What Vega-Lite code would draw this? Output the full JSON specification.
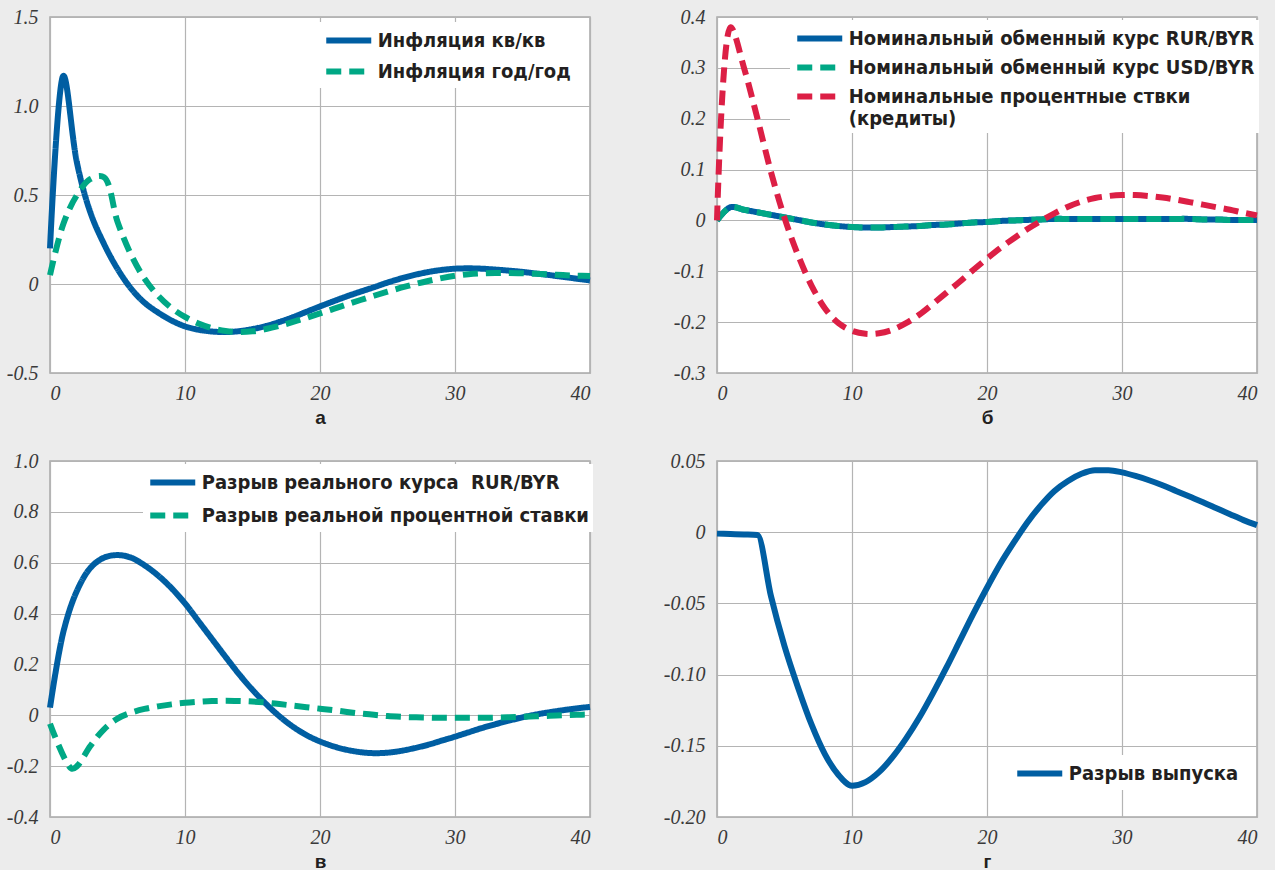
{
  "$schema": "https://vega.github.io/schema/vega-lite/v6.json",
  "background": "#ececec",
  "padding": {"left": 5, "top": 6, "right": 17, "bottom": 4},
  "columns": 2,
  "bounds": "flush",
  "spacing": {"row": 88, "column": 127},
  "resolve": {"scale": {"color": "independent", "strokeDash": "independent", "x": "independent", "y": "independent"}, "legend": {"color": "independent", "strokeDash": "independent"}},
  "config": {
    "view": {"fill": "white", "stroke": "#a8a8a8", "strokeWidth": 1.5},
    "axis": {"grid": true, "gridColor": "#b4b4b4", "gridWidth": 1.2, "domain": false, "ticks": false, "labelFont": "Liberation Serif, DejaVu Serif Condensed, serif", "labelFontStyle": "italic", "labelFontSize": 20, "labelColor": "#3a3a3a", "titleFont": "Liberation Sans, Arial, sans-serif", "titleFontWeight": "bold", "titleFontSize": 19, "titleColor": "#231f20"},
    "axisY": {"labelPadding": 12},
    "axisX": {"labelPadding": 10, "titlePadding": 5},
    "legend": {"orient": "none", "fillColor": "white", "padding": 4, "labelFont": "Liberation Sans Narrow, DejaVu Sans Condensed, Liberation Sans", "labelFontWeight": "bold", "labelFontSize": 20, "labelColor": "#231f20", "symbolType": "M-2,0L2,0", "symbolSize": 506.25, "symbolOffset": 11.25, "symbolStrokeWidth": 6, "labelOffset": 14.5, "rowPadding": 5, "labelLimit": 600},
    "line": {"strokeWidth": 6, "interpolate": "catmull-rom", "strokeCap": "butt"}
  },
  "datasets": {
    "a": [
      {"t":0,"s":"Инфляция кв/кв","v":0.2},{"t":1,"s":"Инфляция кв/кв","v":1.17},{"t":2,"s":"Инфляция кв/кв","v":0.68},{"t":3,"s":"Инфляция кв/кв","v":0.4},{"t":4,"s":"Инфляция кв/кв","v":0.225},{"t":5,"s":"Инфляция кв/кв","v":0.085},{"t":6,"s":"Инфляция кв/кв","v":-0.025},{"t":7,"s":"Инфляция кв/кв","v":-0.105},{"t":8,"s":"Инфляция кв/кв","v":-0.16},{"t":9,"s":"Инфляция кв/кв","v":-0.205},{"t":10,"s":"Инфляция кв/кв","v":-0.238},{"t":11,"s":"Инфляция кв/кв","v":-0.257},{"t":12,"s":"Инфляция кв/кв","v":-0.267},{"t":13,"s":"Инфляция кв/кв","v":-0.27},{"t":14,"s":"Инфляция кв/кв","v":-0.265},{"t":15,"s":"Инфляция кв/кв","v":-0.253},{"t":16,"s":"Инфляция кв/кв","v":-0.236},{"t":17,"s":"Инфляция кв/кв","v":-0.213},{"t":18,"s":"Инфляция кв/кв","v":-0.186},{"t":19,"s":"Инфляция кв/кв","v":-0.156},{"t":20,"s":"Инфляция кв/кв","v":-0.126},{"t":21,"s":"Инфляция кв/кв","v":-0.097},{"t":22,"s":"Инфляция кв/кв","v":-0.069},{"t":23,"s":"Инфляция кв/кв","v":-0.043},{"t":24,"s":"Инфляция кв/кв","v":-0.018},{"t":25,"s":"Инфляция кв/кв","v":0.008},{"t":26,"s":"Инфляция кв/кв","v":0.031},{"t":27,"s":"Инфляция кв/кв","v":0.051},{"t":28,"s":"Инфляция кв/кв","v":0.067},{"t":29,"s":"Инфляция кв/кв","v":0.079},{"t":30,"s":"Инфляция кв/кв","v":0.086},{"t":31,"s":"Инфляция кв/кв","v":0.088},{"t":32,"s":"Инфляция кв/кв","v":0.086},{"t":33,"s":"Инфляция кв/кв","v":0.081},{"t":34,"s":"Инфляция кв/кв","v":0.075},{"t":35,"s":"Инфляция кв/кв","v":0.068},{"t":36,"s":"Инфляция кв/кв","v":0.059},{"t":37,"s":"Инфляция кв/кв","v":0.05},{"t":38,"s":"Инфляция кв/кв","v":0.04},{"t":39,"s":"Инфляция кв/кв","v":0.03},{"t":40,"s":"Инфляция кв/кв","v":0.02},
      {"t":0,"s":"Инфляция год/год","v":0.05},{"t":1,"s":"Инфляция год/год","v":0.34},{"t":2,"s":"Инфляция год/год","v":0.5},{"t":3,"s":"Инфляция год/год","v":0.59},{"t":4,"s":"Инфляция год/год","v":0.6},{"t":5,"s":"Инфляция год/год","v":0.35},{"t":6,"s":"Инфляция год/год","v":0.165},{"t":7,"s":"Инфляция год/год","v":0.03},{"t":8,"s":"Инфляция год/год","v":-0.065},{"t":9,"s":"Инфляция год/год","v":-0.135},{"t":10,"s":"Инфляция год/год","v":-0.185},{"t":11,"s":"Инфляция год/год","v":-0.222},{"t":12,"s":"Инфляция год/год","v":-0.248},{"t":13,"s":"Инфляция год/год","v":-0.264},{"t":14,"s":"Инфляция год/год","v":-0.27},{"t":15,"s":"Инфляция год/год","v":-0.266},{"t":16,"s":"Инфляция год/год","v":-0.253},{"t":17,"s":"Инфляция год/год","v":-0.235},{"t":18,"s":"Инфляция год/год","v":-0.213},{"t":19,"s":"Инфляция год/год","v":-0.19},{"t":20,"s":"Инфляция год/год","v":-0.165},{"t":21,"s":"Инфляция год/год","v":-0.14},{"t":22,"s":"Инфляция год/год","v":-0.115},{"t":23,"s":"Инфляция год/год","v":-0.09},{"t":24,"s":"Инфляция год/год","v":-0.066},{"t":25,"s":"Инфляция год/год","v":-0.043},{"t":26,"s":"Инфляция год/год","v":-0.021},{"t":27,"s":"Инфляция год/год","v":-0.001},{"t":28,"s":"Инфляция год/год","v":0.017},{"t":29,"s":"Инфляция год/год","v":0.033},{"t":30,"s":"Инфляция год/год","v":0.046},{"t":31,"s":"Инфляция год/год","v":0.055},{"t":32,"s":"Инфляция год/год","v":0.06},{"t":33,"s":"Инфляция год/год","v":0.062},{"t":34,"s":"Инфляция год/год","v":0.062},{"t":35,"s":"Инфляция год/год","v":0.06},{"t":36,"s":"Инфляция год/год","v":0.057},{"t":37,"s":"Инфляция год/год","v":0.054},{"t":38,"s":"Инфляция год/год","v":0.05},{"t":39,"s":"Инфляция год/год","v":0.047},{"t":40,"s":"Инфляция год/год","v":0.045}
    ],
    "b": [
      {"t":0,"s":"Номинальный обменный курс RUR/BYR","v":0.0},{"t":1,"s":"Номинальный обменный курс RUR/BYR","v":0.026},{"t":2,"s":"Номинальный обменный курс RUR/BYR","v":0.021},{"t":3,"s":"Номинальный обменный курс RUR/BYR","v":0.016},{"t":4,"s":"Номинальный обменный курс RUR/BYR","v":0.011},{"t":5,"s":"Номинальный обменный курс RUR/BYR","v":0.006},{"t":6,"s":"Номинальный обменный курс RUR/BYR","v":0.001},{"t":7,"s":"Номинальный обменный курс RUR/BYR","v":-0.004},{"t":8,"s":"Номинальный обменный курс RUR/BYR","v":-0.008},{"t":9,"s":"Номинальный обменный курс RUR/BYR","v":-0.011},{"t":10,"s":"Номинальный обменный курс RUR/BYR","v":-0.013},{"t":11,"s":"Номинальный обменный курс RUR/BYR","v":-0.014},{"t":12,"s":"Номинальный обменный курс RUR/BYR","v":-0.014},{"t":13,"s":"Номинальный обменный курс RUR/BYR","v":-0.013},{"t":14,"s":"Номинальный обменный курс RUR/BYR","v":-0.012},{"t":15,"s":"Номинальный обменный курс RUR/BYR","v":-0.011},{"t":16,"s":"Номинальный обменный курс RUR/BYR","v":-0.009},{"t":17,"s":"Номинальный обменный курс RUR/BYR","v":-0.008},{"t":18,"s":"Номинальный обменный курс RUR/BYR","v":-0.006},{"t":19,"s":"Номинальный обменный курс RUR/BYR","v":-0.004},{"t":20,"s":"Номинальный обменный курс RUR/BYR","v":-0.003},{"t":21,"s":"Номинальный обменный курс RUR/BYR","v":-0.001},{"t":22,"s":"Номинальный обменный курс RUR/BYR","v":0.0},{"t":23,"s":"Номинальный обменный курс RUR/BYR","v":0.001},{"t":24,"s":"Номинальный обменный курс RUR/BYR","v":0.002},{"t":25,"s":"Номинальный обменный курс RUR/BYR","v":0.003},{"t":26,"s":"Номинальный обменный курс RUR/BYR","v":0.003},{"t":27,"s":"Номинальный обменный курс RUR/BYR","v":0.003},{"t":28,"s":"Номинальный обменный курс RUR/BYR","v":0.003},{"t":29,"s":"Номинальный обменный курс RUR/BYR","v":0.003},{"t":30,"s":"Номинальный обменный курс RUR/BYR","v":0.003},{"t":31,"s":"Номинальный обменный курс RUR/BYR","v":0.003},{"t":32,"s":"Номинальный обменный курс RUR/BYR","v":0.003},{"t":33,"s":"Номинальный обменный курс RUR/BYR","v":0.003},{"t":34,"s":"Номинальный обменный курс RUR/BYR","v":0.003},{"t":35,"s":"Номинальный обменный курс RUR/BYR","v":0.003},{"t":36,"s":"Номинальный обменный курс RUR/BYR","v":0.002},{"t":37,"s":"Номинальный обменный курс RUR/BYR","v":0.002},{"t":38,"s":"Номинальный обменный курс RUR/BYR","v":0.001},{"t":39,"s":"Номинальный обменный курс RUR/BYR","v":0.001},{"t":40,"s":"Номинальный обменный курс RUR/BYR","v":0.001},
      {"t":0,"s":"Номинальный обменный курс USD/BYR","v":0.0},{"t":1,"s":"Номинальный обменный курс USD/BYR","v":0.026},{"t":2,"s":"Номинальный обменный курс USD/BYR","v":0.021},{"t":3,"s":"Номинальный обменный курс USD/BYR","v":0.016},{"t":4,"s":"Номинальный обменный курс USD/BYR","v":0.011},{"t":5,"s":"Номинальный обменный курс USD/BYR","v":0.006},{"t":6,"s":"Номинальный обменный курс USD/BYR","v":0.001},{"t":7,"s":"Номинальный обменный курс USD/BYR","v":-0.004},{"t":8,"s":"Номинальный обменный курс USD/BYR","v":-0.008},{"t":9,"s":"Номинальный обменный курс USD/BYR","v":-0.011},{"t":10,"s":"Номинальный обменный курс USD/BYR","v":-0.013},{"t":11,"s":"Номинальный обменный курс USD/BYR","v":-0.014},{"t":12,"s":"Номинальный обменный курс USD/BYR","v":-0.014},{"t":13,"s":"Номинальный обменный курс USD/BYR","v":-0.013},{"t":14,"s":"Номинальный обменный курс USD/BYR","v":-0.012},{"t":15,"s":"Номинальный обменный курс USD/BYR","v":-0.011},{"t":16,"s":"Номинальный обменный курс USD/BYR","v":-0.009},{"t":17,"s":"Номинальный обменный курс USD/BYR","v":-0.008},{"t":18,"s":"Номинальный обменный курс USD/BYR","v":-0.006},{"t":19,"s":"Номинальный обменный курс USD/BYR","v":-0.004},{"t":20,"s":"Номинальный обменный курс USD/BYR","v":-0.003},{"t":21,"s":"Номинальный обменный курс USD/BYR","v":-0.001},{"t":22,"s":"Номинальный обменный курс USD/BYR","v":0.0},{"t":23,"s":"Номинальный обменный курс USD/BYR","v":0.001},{"t":24,"s":"Номинальный обменный курс USD/BYR","v":0.002},{"t":25,"s":"Номинальный обменный курс USD/BYR","v":0.003},{"t":26,"s":"Номинальный обменный курс USD/BYR","v":0.003},{"t":27,"s":"Номинальный обменный курс USD/BYR","v":0.003},{"t":28,"s":"Номинальный обменный курс USD/BYR","v":0.003},{"t":29,"s":"Номинальный обменный курс USD/BYR","v":0.003},{"t":30,"s":"Номинальный обменный курс USD/BYR","v":0.003},{"t":31,"s":"Номинальный обменный курс USD/BYR","v":0.003},{"t":32,"s":"Номинальный обменный курс USD/BYR","v":0.003},{"t":33,"s":"Номинальный обменный курс USD/BYR","v":0.003},{"t":34,"s":"Номинальный обменный курс USD/BYR","v":0.003},{"t":35,"s":"Номинальный обменный курс USD/BYR","v":0.003},{"t":36,"s":"Номинальный обменный курс USD/BYR","v":0.002},{"t":37,"s":"Номинальный обменный курс USD/BYR","v":0.002},{"t":38,"s":"Номинальный обменный курс USD/BYR","v":0.001},{"t":39,"s":"Номинальный обменный курс USD/BYR","v":0.001},{"t":40,"s":"Номинальный обменный курс USD/BYR","v":0.001},
      {"t":0,"s":"Номинальные процентные ствки (кредиты)","v":0.0},{"t":1,"s":"Номинальные процентные ствки (кредиты)","v":0.38},{"t":2,"s":"Номинальные процентные ствки (кредиты)","v":0.3},{"t":3,"s":"Номинальные процентные ствки (кредиты)","v":0.2},{"t":4,"s":"Номинальные процентные ствки (кредиты)","v":0.095},{"t":5,"s":"Номинальные процентные ствки (кредиты)","v":0.005},{"t":6,"s":"Номинальные процентные ствки (кредиты)","v":-0.068},{"t":7,"s":"Номинальные процентные ствки (кредиты)","v":-0.128},{"t":8,"s":"Номинальные процентные ствки (кредиты)","v":-0.173},{"t":9,"s":"Номинальные процентные ствки (кредиты)","v":-0.202},{"t":10,"s":"Номинальные процентные ствки (кредиты)","v":-0.217},{"t":11,"s":"Номинальные процентные ствки (кредиты)","v":-0.223},{"t":12,"s":"Номинальные процентные ствки (кредиты)","v":-0.222},{"t":13,"s":"Номинальные процентные ствки (кредиты)","v":-0.215},{"t":14,"s":"Номинальные процентные ствки (кредиты)","v":-0.202},{"t":15,"s":"Номинальные процентные ствки (кредиты)","v":-0.185},{"t":16,"s":"Номинальные процентные ствки (кредиты)","v":-0.164},{"t":17,"s":"Номинальные процентные ствки (кредиты)","v":-0.142},{"t":18,"s":"Номинальные процентные ствки (кредиты)","v":-0.12},{"t":19,"s":"Номинальные процентные ствки (кредиты)","v":-0.097},{"t":20,"s":"Номинальные процентные ствки (кредиты)","v":-0.075},{"t":21,"s":"Номинальные процентные ствки (кредиты)","v":-0.054},{"t":22,"s":"Номинальные процентные ствки (кредиты)","v":-0.035},{"t":23,"s":"Номинальные процентные ствки (кредиты)","v":-0.017},{"t":24,"s":"Номинальные процентные ствки (кредиты)","v":-0.001},{"t":25,"s":"Номинальные процентные ствки (кредиты)","v":0.014},{"t":26,"s":"Номинальные процентные ствки (кредиты)","v":0.027},{"t":27,"s":"Номинальные процентные ствки (кредиты)","v":0.037},{"t":28,"s":"Номинальные процентные ствки (кредиты)","v":0.044},{"t":29,"s":"Номинальные процентные ствки (кредиты)","v":0.048},{"t":30,"s":"Номинальные процентные ствки (кредиты)","v":0.05},{"t":31,"s":"Номинальные процентные ствки (кредиты)","v":0.05},{"t":32,"s":"Номинальные процентные ствки (кредиты)","v":0.048},{"t":33,"s":"Номинальные процентные ствки (кредиты)","v":0.045},{"t":34,"s":"Номинальные процентные ствки (кредиты)","v":0.041},{"t":35,"s":"Номинальные процентные ствки (кредиты)","v":0.036},{"t":36,"s":"Номинальные процентные ствки (кредиты)","v":0.031},{"t":37,"s":"Номинальные процентные ствки (кредиты)","v":0.026},{"t":38,"s":"Номинальные процентные ствки (кредиты)","v":0.021},{"t":39,"s":"Номинальные процентные ствки (кредиты)","v":0.015},{"t":40,"s":"Номинальные процентные ствки (кредиты)","v":0.01}
    ],
    "c": [
      {"t":0,"s":"Разрыв реального курса  RUR/BYR","v":0.03},{"t":1,"s":"Разрыв реального курса  RUR/BYR","v":0.33},{"t":2,"s":"Разрыв реального курса  RUR/BYR","v":0.49},{"t":3,"s":"Разрыв реального курса  RUR/BYR","v":0.58},{"t":4,"s":"Разрыв реального курса  RUR/BYR","v":0.62},{"t":5,"s":"Разрыв реального курса  RUR/BYR","v":0.63},{"t":6,"s":"Разрыв реального курса  RUR/BYR","v":0.62},{"t":7,"s":"Разрыв реального курса  RUR/BYR","v":0.59},{"t":8,"s":"Разрыв реального курса  RUR/BYR","v":0.55},{"t":9,"s":"Разрыв реального курса  RUR/BYR","v":0.5},{"t":10,"s":"Разрыв реального курса  RUR/BYR","v":0.44},{"t":11,"s":"Разрыв реального курса  RUR/BYR","v":0.37},{"t":12,"s":"Разрыв реального курса  RUR/BYR","v":0.3},{"t":13,"s":"Разрыв реального курса  RUR/BYR","v":0.23},{"t":14,"s":"Разрыв реального курса  RUR/BYR","v":0.162},{"t":15,"s":"Разрыв реального курса  RUR/BYR","v":0.1},{"t":16,"s":"Разрыв реального курса  RUR/BYR","v":0.045},{"t":17,"s":"Разрыв реального курса  RUR/BYR","v":-0.004},{"t":18,"s":"Разрыв реального курса  RUR/BYR","v":-0.045},{"t":19,"s":"Разрыв реального курса  RUR/BYR","v":-0.078},{"t":20,"s":"Разрыв реального курса  RUR/BYR","v":-0.103},{"t":21,"s":"Разрыв реального курса  RUR/BYR","v":-0.122},{"t":22,"s":"Разрыв реального курса  RUR/BYR","v":-0.136},{"t":23,"s":"Разрыв реального курса  RUR/BYR","v":-0.145},{"t":24,"s":"Разрыв реального курса  RUR/BYR","v":-0.149},{"t":25,"s":"Разрыв реального курса  RUR/BYR","v":-0.147},{"t":26,"s":"Разрыв реального курса  RUR/BYR","v":-0.14},{"t":27,"s":"Разрыв реального курса  RUR/BYR","v":-0.129},{"t":28,"s":"Разрыв реального курса  RUR/BYR","v":-0.116},{"t":29,"s":"Разрыв реального курса  RUR/BYR","v":-0.1},{"t":30,"s":"Разрыв реального курса  RUR/BYR","v":-0.084},{"t":31,"s":"Разрыв реального курса  RUR/BYR","v":-0.067},{"t":32,"s":"Разрыв реального курса  RUR/BYR","v":-0.05},{"t":33,"s":"Разрыв реального курса  RUR/BYR","v":-0.035},{"t":34,"s":"Разрыв реального курса  RUR/BYR","v":-0.021},{"t":35,"s":"Разрыв реального курса  RUR/BYR","v":-0.008},{"t":36,"s":"Разрыв реального курса  RUR/BYR","v":0.003},{"t":37,"s":"Разрыв реального курса  RUR/BYR","v":0.012},{"t":38,"s":"Разрыв реального курса  RUR/BYR","v":0.02},{"t":39,"s":"Разрыв реального курса  RUR/BYR","v":0.027},{"t":40,"s":"Разрыв реального курса  RUR/BYR","v":0.033},
      {"t":0,"s":"Разрыв реальной процентной ставки","v":-0.033},{"t":1.6,"s":"Разрыв реальной процентной ставки","v":-0.21},{"t":2,"s":"Разрыв реальной процентной ставки","v":-0.2},{"t":3,"s":"Разрыв реальной процентной ставки","v":-0.12},{"t":4,"s":"Разрыв реальной процентной ставки","v":-0.055},{"t":5,"s":"Разрыв реальной процентной ставки","v":-0.013},{"t":6,"s":"Разрыв реальной процентной ставки","v":0.01},{"t":7,"s":"Разрыв реальной процентной ставки","v":0.025},{"t":8,"s":"Разрыв реальной процентной ставки","v":0.035},{"t":9,"s":"Разрыв реальной процентной ставки","v":0.043},{"t":10,"s":"Разрыв реальной процентной ставки","v":0.049},{"t":11,"s":"Разрыв реальной процентной ставки","v":0.053},{"t":12,"s":"Разрыв реальной процентной ставки","v":0.056},{"t":13,"s":"Разрыв реальной процентной ставки","v":0.057},{"t":14,"s":"Разрыв реальной процентной ставки","v":0.056},{"t":15,"s":"Разрыв реальной процентной ставки","v":0.054},{"t":16,"s":"Разрыв реальной процентной ставки","v":0.05},{"t":17,"s":"Разрыв реальной процентной ставки","v":0.044},{"t":18,"s":"Разрыв реальной процентной ставки","v":0.038},{"t":19,"s":"Разрыв реальной процентной ставки","v":0.032},{"t":20,"s":"Разрыв реальной процентной ставки","v":0.026},{"t":21,"s":"Разрыв реальной процентной ставки","v":0.02},{"t":22,"s":"Разрыв реальной процентной ставки","v":0.013},{"t":23,"s":"Разрыв реальной процентной ставки","v":0.007},{"t":24,"s":"Разрыв реальной процентной ставки","v":0.002},{"t":25,"s":"Разрыв реальной процентной ставки","v":-0.003},{"t":26,"s":"Разрыв реальной процентной ставки","v":-0.006},{"t":27,"s":"Разрыв реальной процентной ставки","v":-0.008},{"t":28,"s":"Разрыв реальной процентной ставки","v":-0.009},{"t":29,"s":"Разрыв реальной процентной ставки","v":-0.01},{"t":30,"s":"Разрыв реальной процентной ставки","v":-0.01},{"t":31,"s":"Разрыв реальной процентной ставки","v":-0.01},{"t":32,"s":"Разрыв реальной процентной ставки","v":-0.01},{"t":33,"s":"Разрыв реальной процентной ставки","v":-0.009},{"t":34,"s":"Разрыв реальной процентной ставки","v":-0.008},{"t":35,"s":"Разрыв реальной процентной ставки","v":-0.006},{"t":36,"s":"Разрыв реальной процентной ставки","v":-0.004},{"t":37,"s":"Разрыв реальной процентной ставки","v":-0.002},{"t":38,"s":"Разрыв реальной процентной ставки","v":0.0},{"t":39,"s":"Разрыв реальной процентной ставки","v":0.002},{"t":40,"s":"Разрыв реальной процентной ставки","v":0.003}
    ],
    "d": [
      {"t":0,"s":"Разрыв выпуска","v":-0.001},{"t":1,"s":"Разрыв выпуска","v":-0.0013},{"t":2,"s":"Разрыв выпуска","v":-0.0016},{"t":3,"s":"Разрыв выпуска","v":-0.002},{"t":4,"s":"Разрыв выпуска","v":-0.045},{"t":5,"s":"Разрыв выпуска","v":-0.08},{"t":6,"s":"Разрыв выпуска","v":-0.109},{"t":7,"s":"Разрыв выпуска","v":-0.135},{"t":8,"s":"Разрыв выпуска","v":-0.156},{"t":9,"s":"Разрыв выпуска","v":-0.1705},{"t":10,"s":"Разрыв выпуска","v":-0.178},{"t":11,"s":"Разрыв выпуска","v":-0.1755},{"t":12,"s":"Разрыв выпуска","v":-0.1685},{"t":13,"s":"Разрыв выпуска","v":-0.158},{"t":14,"s":"Разрыв выпуска","v":-0.145},{"t":15,"s":"Разрыв выпуска","v":-0.13},{"t":16,"s":"Разрыв выпуска","v":-0.113},{"t":17,"s":"Разрыв выпуска","v":-0.095},{"t":18,"s":"Разрыв выпуска","v":-0.076},{"t":19,"s":"Разрыв выпуска","v":-0.057},{"t":20,"s":"Разрыв выпуска","v":-0.039},{"t":21,"s":"Разрыв выпуска","v":-0.022},{"t":22,"s":"Разрыв выпуска","v":-0.007},{"t":23,"s":"Разрыв выпуска","v":0.007},{"t":24,"s":"Разрыв выпуска","v":0.019},{"t":25,"s":"Разрыв выпуска","v":0.029},{"t":26,"s":"Разрыв выпуска","v":0.036},{"t":27,"s":"Разрыв выпуска","v":0.041},{"t":28,"s":"Разрыв выпуска","v":0.0435},{"t":29,"s":"Разрыв выпуска","v":0.0435},{"t":30,"s":"Разрыв выпуска","v":0.042},{"t":31,"s":"Разрыв выпуска","v":0.0395},{"t":32,"s":"Разрыв выпуска","v":0.0365},{"t":33,"s":"Разрыв выпуска","v":0.033},{"t":34,"s":"Разрыв выпуска","v":0.029},{"t":35,"s":"Разрыв выпуска","v":0.025},{"t":36,"s":"Разрыв выпуска","v":0.021},{"t":37,"s":"Разрыв выпуска","v":0.0168},{"t":38,"s":"Разрыв выпуска","v":0.0126},{"t":39,"s":"Разрыв выпуска","v":0.0085},{"t":40,"s":"Разрыв выпуска","v":0.005}
    ]
  },
  "concat": [
    {
      "width": 540, "height": 356,
      "data": {"name": "a"},
      "mark": {"type": "line"},
      "encoding": {
        "x": {"field": "t", "type": "quantitative", "scale": {"domain": [0, 40], "nice": false}, "axis": {"values": [0, 10, 20, 30, 40], "title": "а"}},
        "y": {"field": "v", "type": "quantitative", "scale": {"domain": [-0.5, 1.5], "nice": false, "zero": false}, "axis": {"values": [-0.5, 0, 0.5, 1, 1.5], "title": null, "labelExpr": "datum.value == 0 ? '0' : replace(format(datum.value, '.1f'), '−', '-')"}},
        "color": {"field": "s", "type": "nominal", "sort": null, "scale": {"domain": ["Инфляция кв/кв", "Инфляция год/год"], "range": ["#005ea2", "#00a885"]}, "legend": {"title": null, "legendX": 269, "legendY": 5, "rowPadding": 4}},
        "strokeDash": {"field": "s", "type": "nominal", "sort": null, "scale": {"domain": ["Инфляция кв/кв", "Инфляция год/год"], "range": [[1, 0], [15, 8]]}, "legend": {"title": null, "legendX": 269, "legendY": 5, "rowPadding": 4}}
      }
    },
    {
      "width": 540, "height": 356,
      "data": {"name": "b"},
      "mark": {"type": "line"},
      "encoding": {
        "x": {"field": "t", "type": "quantitative", "scale": {"domain": [0, 40], "nice": false}, "axis": {"values": [0, 10, 20, 30, 40], "title": "б"}},
        "y": {"field": "v", "type": "quantitative", "scale": {"domain": [-0.3, 0.4], "nice": false, "zero": false}, "axis": {"values": [-0.3, -0.2, -0.1, 0, 0.1, 0.2, 0.3, 0.4], "title": null, "labelExpr": "datum.value == 0 ? '0' : replace(format(datum.value, '.1f'), '−', '-')"}},
        "color": {"field": "s", "type": "nominal", "sort": null, "scale": {"domain": ["Номинальный обменный курс RUR/BYR", "Номинальный обменный курс USD/BYR", "Номинальные процентные ствки (кредиты)"], "range": ["#005ea2", "#00a885", "#dc1f45"]}, "legend": {"title": null, "legendX": 73, "legendY": 3, "rowPadding": 2, "labelExpr": "datum.label == 'Номинальные процентные ствки (кредиты)' ? ['Номинальные процентные ствки', '(кредиты)'] : datum.label"}},
        "strokeDash": {"field": "s", "type": "nominal", "sort": null, "scale": {"domain": ["Номинальный обменный курс RUR/BYR", "Номинальный обменный курс USD/BYR", "Номинальные процентные ствки (кредиты)"], "range": [[1, 0], [15, 8], [15, 8]]}, "legend": {"title": null, "legendX": 73, "legendY": 3, "rowPadding": 2, "labelExpr": "datum.label == 'Номинальные процентные ствки (кредиты)' ? ['Номинальные процентные ствки', '(кредиты)'] : datum.label"}}
      }
    },
    {
      "width": 540, "height": 356,
      "data": {"name": "c"},
      "mark": {"type": "line"},
      "encoding": {
        "x": {"field": "t", "type": "quantitative", "scale": {"domain": [0, 40], "nice": false}, "axis": {"values": [0, 10, 20, 30, 40], "title": "в"}},
        "y": {"field": "v", "type": "quantitative", "scale": {"domain": [-0.4, 1.0], "nice": false, "zero": false}, "axis": {"values": [-0.4, -0.2, 0, 0.2, 0.4, 0.6, 0.8, 1.0], "title": null, "labelExpr": "datum.value == 0 ? '0' : replace(format(datum.value, '.1f'), '−', '-')"}},
        "color": {"field": "s", "type": "nominal", "sort": null, "scale": {"domain": ["Разрыв реального курса  RUR/BYR", "Разрыв реальной процентной ставки"], "range": ["#005ea2", "#00a885"]}, "legend": {"title": null, "legendX": 93, "legendY": 3, "rowPadding": 6, "labelExpr": "replace(datum.label, '  ', '\u00a0 ')"}},
        "strokeDash": {"field": "s", "type": "nominal", "sort": null, "scale": {"domain": ["Разрыв реального курса  RUR/BYR", "Разрыв реальной процентной ставки"], "range": [[1, 0], [15, 8]]}, "legend": {"title": null, "legendX": 93, "legendY": 3, "rowPadding": 6, "labelExpr": "replace(datum.label, '  ', '\u00a0 ')"}}
      }
    },
    {
      "width": 540, "height": 356,
      "data": {"name": "d"},
      "mark": {"type": "line", "interpolate": "monotone"},
      "encoding": {
        "x": {"field": "t", "type": "quantitative", "scale": {"domain": [0, 40], "nice": false}, "axis": {"values": [0, 10, 20, 30, 40], "title": "г"}},
        "y": {"field": "v", "type": "quantitative", "scale": {"domain": [-0.2, 0.05], "nice": false, "zero": false}, "axis": {"values": [-0.2, -0.15, -0.1, -0.05, 0, 0.05], "title": null, "labelExpr": "datum.value == 0 ? '0' : replace(format(datum.value, '.2f'), '−', '-')"}},
        "color": {"field": "s", "type": "nominal", "scale": {"domain": ["Разрыв выпуска"], "range": ["#005ea2"]}, "legend": {"title": null, "legendX": 293, "legendY": 294}}
      }
    }
  ]
}
